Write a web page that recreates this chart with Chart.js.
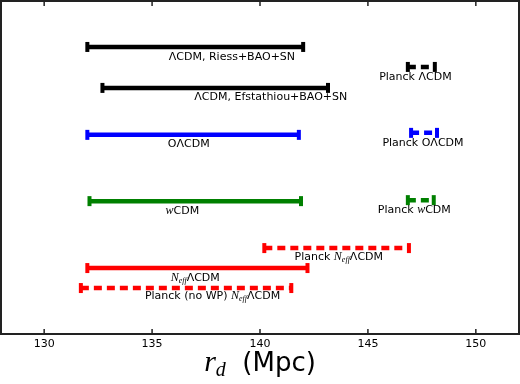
<!DOCTYPE html>
<html>
<head>
<meta charset="utf-8">
<script src="https://cdn.jsdelivr.net/npm/chart.js@4.4.1/dist/chart.umd.min.js"></script>
<style>
  html, body { margin: 0; padding: 0; background: #fff; }
  #wrap { width: 520px; height: 384px; }
</style>
</head>
<body>
<div id="wrap"><canvas id="myChart" width="520" height="384"></canvas></div>
<script>
// rows of r_d intervals (Mpc)
const rowNames = ['Riess', 'Efstathiou', 'PlanckLCDM', 'OLCDM', 'PlanckOLCDM',
                  'wCDM', 'PlanckwCDM', 'PlanckNeff', 'Neff', 'PlanckNoWP'];
const rowY   = [8.62, 7.39, 8.02, 5.98, 6.04, 3.99, 4.02, 2.58, 1.98, 1.38];
const rowLow = [132.0, 132.7, 146.85, 132.0, 147.0, 132.1, 146.85, 140.2, 132.0, 131.7];
const rowHigh = [142.0, 143.15, 148.1, 141.8, 148.2, 141.9, 148.05, 146.9, 142.2, 141.45];
const rowColor = ['#000000', '#000000', '#000000', '#0000ff', '#0000ff',
                  '#008000', '#008000', '#ff0000', '#ff0000', '#ff0000'];
const rowDashed = [false, false, true, false, true, false, true, true, false, true];

// labels: pieces of text ('' plain, 'it' italic, 'sub' subscript)
const labelParts = [
  [['ΛCDM, Riess+BAO+SN', '']],
  [['ΛCDM, Efstathiou+BAO+SN', '']],
  [['Planck ΛCDM', '']],
  [['OΛCDM', '']],
  [['Planck OΛCDM', '']],
  [['w', 'it'], ['CDM', '']],
  [['Planck ', ''], ['w', 'it'], ['CDM', '']],
  [['Planck ', ''], ['N', 'it'], ['eff', 'sub'], ['ΛCDM', '']],
  [['N', 'it'], ['eff', 'sub'], ['ΛCDM', '']],
  [['Planck (no WP) ', ''], ['N', 'it'], ['eff', 'sub'], ['ΛCDM', '']]
];
const labelX = [138.7, 140.5, 147.2, 136.7, 147.55, 136.4, 147.15, 143.65, 137.0, 137.8];
const labelY = [8.32, 7.12, 7.72, 5.71, 5.74, 3.69, 3.72, 2.31, 1.68, 1.14];

const tickValues = [130, 135, 140, 145, 150];
const xMin = 128, xMax = 152;

const datasets = rowNames.map((name, i) => ({
  label: name,
  data: [{ x: rowLow[i], y: rowY[i] }, { x: rowHigh[i], y: rowY[i] }],
  showLine: true,
  borderColor: rowColor[i],
  backgroundColor: rowColor[i],
  borderWidth: 4.5,
  borderCapStyle: 'butt',
  borderDash: rowDashed[i] ? [8, 5] : [],
  pointStyle: 'line',
  pointRotation: 90,
  pointRadius: 5,
  pointBorderWidth: 4,
  pointBorderColor: rowColor[i],
  pointHoverRadius: 5
}));

function pieceFont(kind) {
  if (kind === 'it') return "italic 12px 'Liberation Serif'";
  if (kind === 'sub') return "italic 8px 'Liberation Serif'";
  return "11px 'DejaVu Sans'";
}

const extras = {
  id: 'extras',
  afterDraw(chart) {
    const ctx = chart.ctx;
    const area = chart.chartArea;
    const xs = chart.scales.x, ys = chart.scales.y;
    ctx.save();

    // labels
    ctx.fillStyle = '#000';
    ctx.textBaseline = 'middle';
    ctx.textAlign = 'left';
    labelParts.forEach((parts, i) => {
      let w = 0;
      parts.forEach(p => { ctx.font = pieceFont(p[1]); w += ctx.measureText(p[0]).width; });
      let px = xs.getPixelForValue(labelX[i]) - w / 2;
      const py = ys.getPixelForValue(labelY[i]);
      parts.forEach(p => {
        ctx.font = pieceFont(p[1]);
        ctx.fillText(p[0], px, p[1] === 'sub' ? py + 3 : py);
        px += ctx.measureText(p[0]).width;
      });
    });

    // frame
    ctx.strokeStyle = '#222';
    ctx.lineWidth = 2;
    ctx.strokeRect(area.left, area.top, area.right - area.left, area.bottom - area.top);

    // inward ticks
    ctx.lineWidth = 1.5;
    tickValues.forEach(v => {
      const px = xs.getPixelForValue(v);
      ctx.beginPath();
      ctx.moveTo(px, area.bottom); ctx.lineTo(px, area.bottom - 5);
      ctx.moveTo(px, area.top); ctx.lineTo(px, area.top + 5);
      ctx.stroke();
    });

    // axis title
    const title = [['r', "italic 30px 'Liberation Serif'", 0], ['d', "italic 20px 'Liberation Serif'", 5],
                   ['  (Mpc)', "26px 'DejaVu Sans'", 0]];
    let tw = 0;
    title.forEach(t => { ctx.font = t[1]; tw += ctx.measureText(t[0]).width; });
    let tx = (area.left + area.right) / 2 - tw / 2;
    ctx.textBaseline = 'alphabetic';
    title.forEach(t => {
      ctx.font = t[1];
      ctx.fillText(t[0], tx, 371 + t[2]);
      tx += ctx.measureText(t[0]).width;
    });
    ctx.restore();
  }
};

window.myChart = new Chart(document.getElementById('myChart').getContext('2d'), {
  type: 'scatter',
  data: { datasets: datasets },
  options: {
    responsive: false,
    animation: false,
    layout: { autoPadding: false, padding: { left: 1, right: 1, top: 1, bottom: 0 } },
    plugins: { legend: { display: false }, tooltip: { enabled: false } },
    scales: {
      x: {
        type: 'linear',
        min: xMin,
        max: xMax,
        afterBuildTicks: scale => { scale.ticks = tickValues.map(v => ({ value: v })); },
        afterFit: scale => { scale.height = 50; },
        grid: { display: false, drawTicks: false },
        border: { display: false },
        ticks: { font: { family: 'DejaVu Sans', size: 11 }, color: '#000', padding: 4 }
      },
      y: { min: 0, max: 10, display: false }
    }
  },
  plugins: [extras]
});
</script>
</body>
</html>
